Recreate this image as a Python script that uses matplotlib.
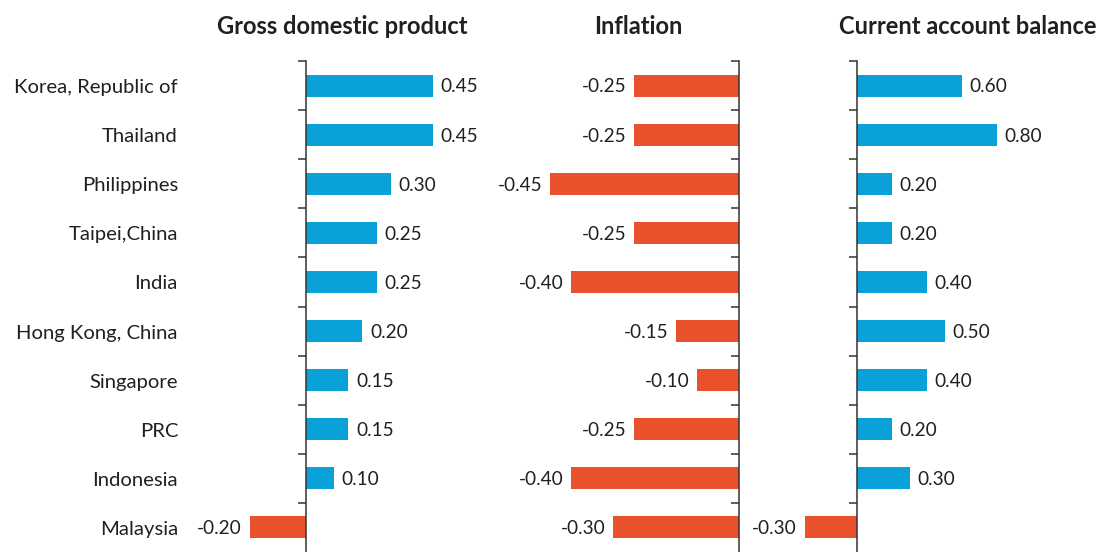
import matplotlib
matplotlib.use("Agg")
import matplotlib.pyplot as plt

plt.rcParams['font.family'] = ['Lato', 'DejaVu Sans']

economies = ["Korea, Republic of", "Thailand", "Philippines", "Taipei,China", "India",
             "Hong Kong, China", "Singapore", "PRC", "Indonesia", "Malaysia"]
gdp = [0.45, 0.45, 0.30, 0.25, 0.25, 0.20, 0.15, 0.15, 0.10, -0.20]
inflation = [-0.25, -0.25, -0.45, -0.25, -0.40, -0.15, -0.10, -0.25, -0.40, -0.30]
current_account = [0.60, 0.80, 0.20, 0.20, 0.40, 0.50, 0.40, 0.20, 0.30, -0.30]
titles = ["Gross domestic product", "Inflation", "Current account balance"]

BLUE = "#0AA1D8"
RED = "#E9512B"
TEXT = "#231F20"
AXIS = "#333333"

W, H = 1100, 552
fig = plt.figure(figsize=(W / 100, H / 100), dpi=100)

# panel geometry in pixels: zero line, pixels per unit, left/right extent
panels = [
    (gdp, 306, 282, 186, 495),
    (inflation, 739, 420, 495, 760),
    (current_account, 857, 175, 760, 1100),
]
title_x = [342, 638, 968]

top_px = 61
for (vals, zero, scale, left, right), title, tx in zip(panels, titles, title_x):
    ax = fig.add_axes([left / W, 0, (right - left) / W, (H - top_px) / H])
    ax.patch.set_visible(False)
    ax.set_xlim((left - zero) / scale, (right - zero) / scale)
    ax.set_ylim(len(economies) - 0.5, -0.5)
    y = list(range(len(economies)))
    colors = [BLUE if v >= 0 else RED for v in vals]
    ax.barh(y, vals, height=0.45, color=colors, zorder=2)
    for yi, v in zip(y, vals):
        if v >= 0:
            ax.annotate(f"{v:.2f}", (v, yi), xytext=(5.5, -1), textcoords="offset points",
                        ha="left", va="center", fontsize=13.7, color=TEXT, clip_on=False)
        else:
            ax.annotate(f"-{abs(v):.2f}", (v, yi), xytext=(-5.5, -1), textcoords="offset points",
                        ha="right", va="center", fontsize=13.7, color=TEXT, clip_on=False)
    for s in ["top", "right", "bottom"]:
        ax.spines[s].set_visible(False)
    ax.spines["left"].set_position(("data", 0))
    ax.spines["left"].set_color(AXIS)
    ax.spines["left"].set_linewidth(1.1)
    ax.set_yticks([i - 0.5 for i in range(len(economies))])
    ax.set_yticklabels([])
    ax.tick_params(axis="y", direction="out", length=6, width=1.1, color=AXIS)
    ax.set_xticks([])
    fig.text(tx / W, 1 - 26 / H, title, ha="center", va="center", fontsize=17,
             fontweight="bold", color=TEXT)

# category labels, right aligned along the left margin
y_first, y_step = 87, 49.2
for i, name in enumerate(economies):
    fig.text(178 / W, 1 - (y_first + i * y_step) / H, name, ha="right", va="center",
             fontsize=14.6, color=TEXT)

fig.savefig("out.png", dpi=100, facecolor="white")
